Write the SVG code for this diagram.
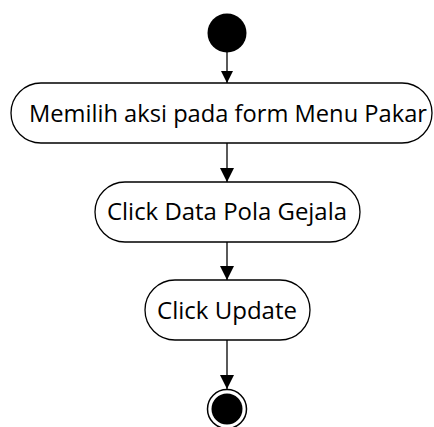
<svg xmlns="http://www.w3.org/2000/svg" width="434" height="427" viewBox="0 0 434 427">
<style>
.act{fill:#fff;stroke:#000;stroke-width:1.3}
.lbl{font-family:"Open Sans","Liberation Sans",sans-serif;font-size:23px;fill:#000;text-anchor:middle}
.edge{stroke:#000;stroke-width:1.3;fill:none}
</style>
<defs>
<marker id="arr" markerWidth="14" markerHeight="16" refX="14" refY="7" orient="auto" markerUnits="userSpaceOnUse" viewBox="0 0 14 14">
<path d="M0,0 L14,7 L0,14 Z" fill="#000"/>
</marker>
<marker id="arrs" markerWidth="12" markerHeight="12" refX="12" refY="6" orient="auto" markerUnits="userSpaceOnUse" viewBox="0 0 12 12">
<path d="M0,0 L12,6 L0,12 Z" fill="#000"/>
</marker>
</defs>
<g id="start"><circle cx="227" cy="33" r="19.5" fill="#000"/></g>
<g id="connectors">
<line class="edge" x1="227" y1="52" x2="227" y2="83" marker-end="url(#arrs)"/>
<line class="edge" x1="227" y1="143" x2="227" y2="182" marker-end="url(#arr)"/>
<line class="edge" x1="227" y1="242" x2="227" y2="280" marker-end="url(#arr)"/>
<line class="edge" x1="227" y1="340" x2="227" y2="389" marker-end="url(#arr)"/>
</g>
<g id="a1"><rect class="act" x="11" y="83" width="421" height="60" rx="30" ry="30"/><text class="lbl" x="228" y="122" textLength="398" lengthAdjust="spacingAndGlyphs">Memilih aksi pada form Menu Pakar</text></g>
<g id="a2"><rect class="act" x="95" y="182" width="265" height="60" rx="30" ry="30"/><text class="lbl" x="227" y="220" textLength="240" lengthAdjust="spacingAndGlyphs">Click Data Pola Gejala</text></g>
<g id="a3"><rect class="act" x="145" y="280" width="165" height="60" rx="30" ry="30"/><text class="lbl" x="227" y="319" textLength="140" lengthAdjust="spacingAndGlyphs">Click Update</text></g>
<g id="end"><circle cx="227" cy="409" r="19.5" fill="#fff" stroke="#000" stroke-width="1.5"/><circle cx="227" cy="409" r="15.5" fill="#000"/></g>
</svg>
